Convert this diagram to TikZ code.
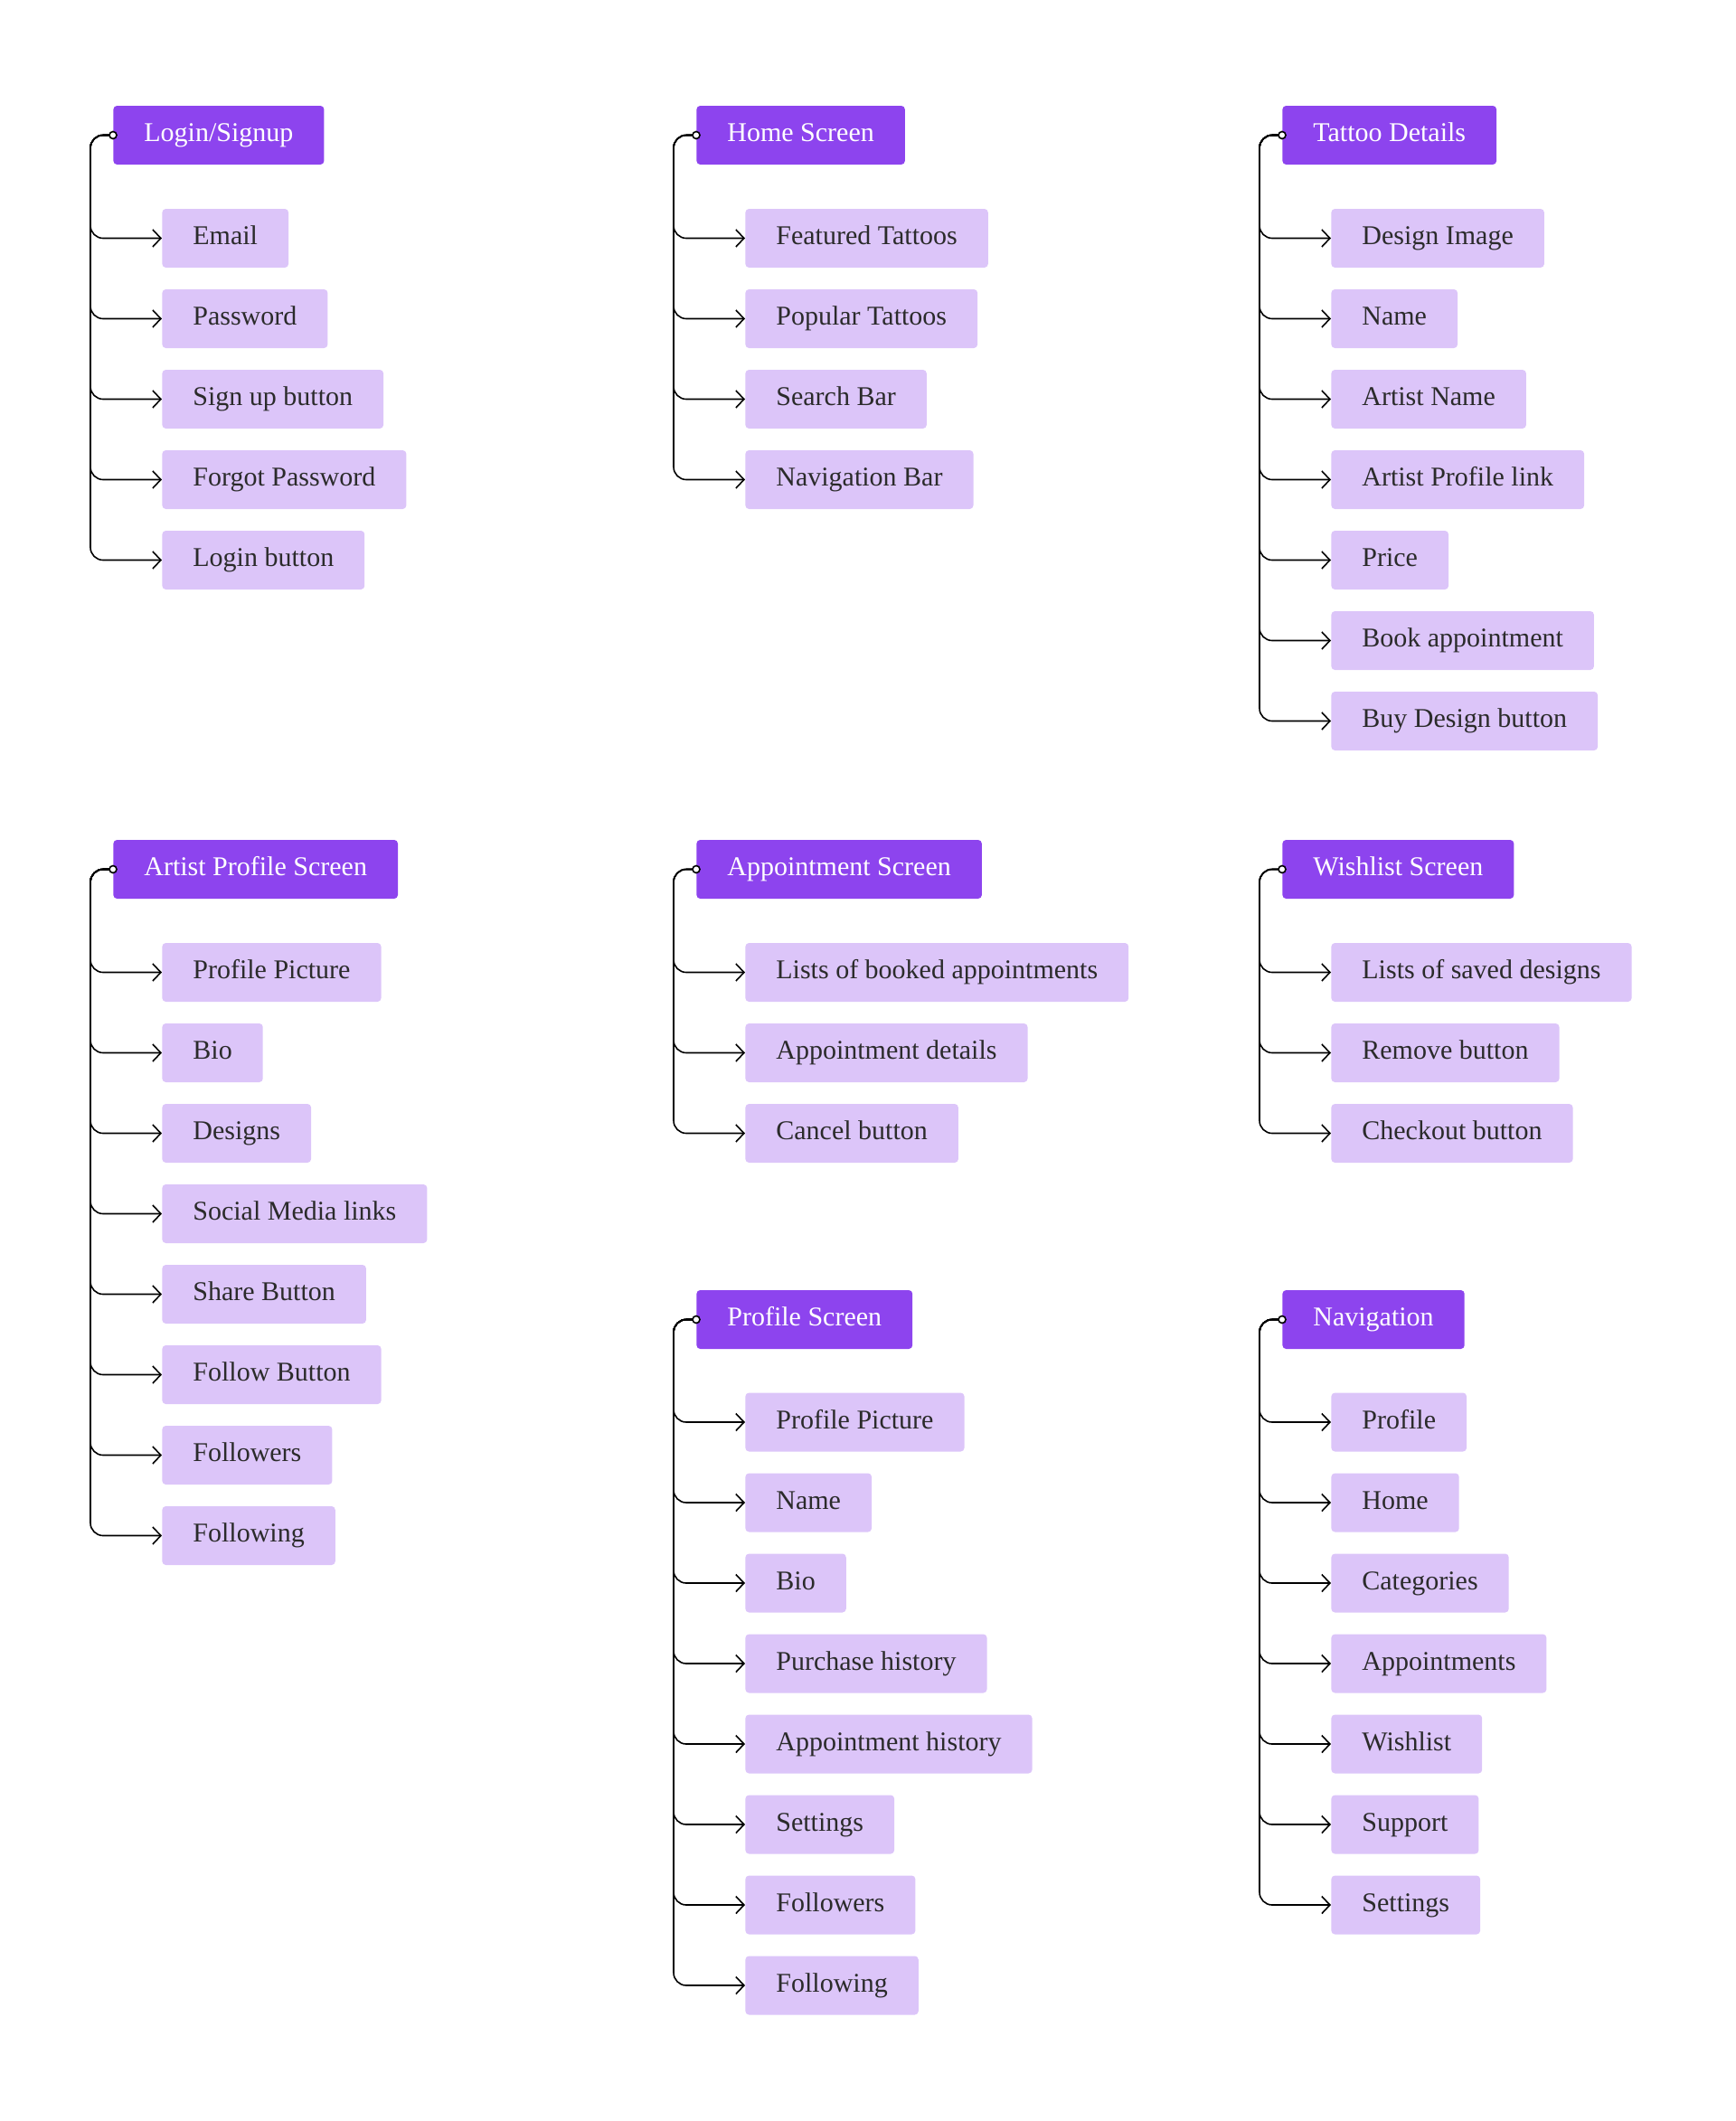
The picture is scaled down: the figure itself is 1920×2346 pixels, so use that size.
\documentclass[tikz,border=0pt]{standalone}
\usepackage{fontspec}
\setmainfont{Liberation Serif}
\usetikzlibrary{arrows.meta}

\definecolor{scrpurple}{HTML}{8D44EE}
\definecolor{itemlilac}{HTML}{DCC5F9}
\definecolor{itemtext}{HTML}{2B2B2B}

\begin{document}
\begin{tikzpicture}[
  x=0.5pt, y=-0.5pt,
  scrbox/.style={anchor=west, fill=scrpurple, text=white, rounded corners=2pt, minimum height=32.5pt, inner xsep=17pt, text height=10.5pt, text depth=3.5pt, font=\fontsize{15}{18}\selectfont},
  itembox/.style={anchor=west, fill=itemlilac, text=itemtext, rounded corners=2pt, minimum height=32.5pt, inner xsep=17pt, text height=10.5pt, text depth=3.5pt, font=\fontsize{15}{18}\selectfont},
  link/.style={-{Straight Barb[length=4.5pt,width=9.5pt]}, line width=0.8pt, rounded corners=7pt},
  dot/.style={draw=black, fill=white, line width=0.8pt}
]
\useasboundingbox (0,0) rectangle (1920,2346);

% top row
\node[scrbox] (login) at (125,149.5) {Login/Signup};
\foreach \t [count=\i] in {Email, Password, Sign up button, Forgot Password, Login button}
  \node[itembox] (login\i) at (179,{263.5+(\i-1)*89}) {\t};
\foreach \i in {1,...,5}
  \draw[link] (login.west) -- ++(-25,0) |- (login\i.west);
\draw[dot] (login.west) circle (2pt);

\node[scrbox] (home) at (770,149.5) {Home Screen};
\foreach \t [count=\i] in {Featured Tattoos, Popular Tattoos, Search Bar, Navigation Bar}
  \node[itembox] (home\i) at (824,{263.5+(\i-1)*89}) {\t};
\foreach \i in {1,...,4}
  \draw[link] (home.west) -- ++(-25,0) |- (home\i.west);
\draw[dot] (home.west) circle (2pt);

\node[scrbox] (tattoo) at (1418,149.5) {Tattoo Details};
\foreach \t [count=\i] in {Design Image, Name, Artist Name, Artist Profile link, Price, Book appointment, Buy Design button}
  \node[itembox] (tattoo\i) at (1472,{263.5+(\i-1)*89}) {\t};
\foreach \i in {1,...,7}
  \draw[link] (tattoo.west) -- ++(-25,0) |- (tattoo\i.west);
\draw[dot] (tattoo.west) circle (2pt);

% middle row
\node[scrbox] (artist) at (125,961.5) {Artist Profile Screen};
\foreach \t [count=\i] in {Profile Picture, Bio, Designs, Social Media links, Share Button, Follow Button, Followers, Following}
  \node[itembox] (artist\i) at (179,{1075.5+(\i-1)*89}) {\t};
\foreach \i in {1,...,8}
  \draw[link] (artist.west) -- ++(-25,0) |- (artist\i.west);
\draw[dot] (artist.west) circle (2pt);

\node[scrbox] (appt) at (770,961.5) {Appointment Screen};
\foreach \t [count=\i] in {Lists of booked appointments, Appointment details, Cancel button}
  \node[itembox] (appt\i) at (824,{1075.5+(\i-1)*89}) {\t};
\foreach \i in {1,...,3}
  \draw[link] (appt.west) -- ++(-25,0) |- (appt\i.west);
\draw[dot] (appt.west) circle (2pt);

\node[scrbox] (wish) at (1418,961.5) {Wishlist Screen};
\foreach \t [count=\i] in {Lists of saved designs, Remove button, Checkout button}
  \node[itembox] (wish\i) at (1472,{1075.5+(\i-1)*89}) {\t};
\foreach \i in {1,...,3}
  \draw[link] (wish.west) -- ++(-25,0) |- (wish\i.west);
\draw[dot] (wish.west) circle (2pt);

% bottom row
\node[scrbox] (profile) at (770,1459.5) {Profile Screen};
\foreach \t [count=\i] in {Profile Picture, Name, Bio, Purchase history, Appointment history, Settings, Followers, Following}
  \node[itembox] (profile\i) at (824,{1573+(\i-1)*89}) {\t};
\foreach \i in {1,...,8}
  \draw[link] (profile.west) -- ++(-25,0) |- (profile\i.west);
\draw[dot] (profile.west) circle (2pt);

\node[scrbox] (nav) at (1418,1459.5) {Navigation};
\foreach \t [count=\i] in {Profile, Home, Categories, Appointments, Wishlist, Support, Settings}
  \node[itembox] (nav\i) at (1472,{1573+(\i-1)*89}) {\t};
\foreach \i in {1,...,7}
  \draw[link] (nav.west) -- ++(-25,0) |- (nav\i.west);
\draw[dot] (nav.west) circle (2pt);
\end{tikzpicture}
\end{document}
